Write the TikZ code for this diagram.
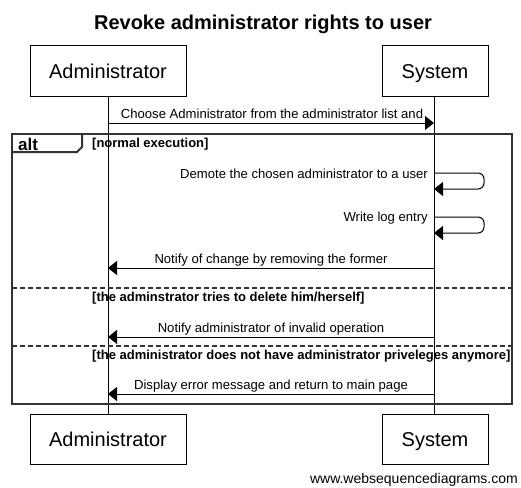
\documentclass[tikz,border=0pt]{standalone}
\usepackage{fontspec}
\setmainfont{Liberation Sans}
\usetikzlibrary{arrows.meta}
\definecolor{framecol}{HTML}{333333}
\begin{document}
\begin{tikzpicture}[x=1pt,y=-1pt,
  actor/.style={draw=black,line width=1pt,minimum height=50pt,inner sep=0pt,text height=14.4pt,text depth=0pt,font=\fontsize{20}{24}\selectfont},
  lifeline/.style={draw=black,line width=1pt},
  msg/.style={draw=black,line width=1pt,-{Triangle[length=9pt,width=14pt]}},
  selfmsg/.style={msg,rounded corners=6pt},
  msglabel/.style={anchor=base,inner sep=0pt,font=\fontsize{13.1}{15}\selectfont},
  selflabel/.style={anchor=base east,inner sep=0pt,font=\fontsize{13.1}{15}\selectfont},
  guard/.style={anchor=west,inner sep=0pt,font=\bfseries\fontsize{13}{15}\selectfont},
  framebox/.style={draw=framecol,line width=2pt},
  separator/.style={draw=framecol,line width=2pt,dash pattern=on 5pt off 3pt}
]
\useasboundingbox (0,0) rectangle (521,487);

% title
\node[font=\bfseries\fontsize{20}{24}\selectfont,inner sep=0pt] (title) at (263,24) {Revoke administrator rights to user};

% actors
\node[actor,minimum width=156pt] (admTop) at (108,71) {Administrator};
\node[actor,minimum width=106pt] (sysTop) at (435,71) {System};
\node[actor,minimum width=156pt] (admBot) at (108,439) {Administrator};
\node[actor,minimum width=106pt] (sysBot) at (435,439) {System};

% lifelines
\draw[lifeline] (admTop.south) -- (admBot.north);
\draw[lifeline] (sysTop.south -| 434,0) -- (sysBot.north -| 434,0);

% alt frame
\draw[framebox] (12,134) rectangle (512,404);
\draw[framebox] (12,152) -- (77,152) -- (82,147) -- (82,134);
\node[anchor=base west,inner sep=0pt,font=\bfseries\fontsize{17}{20}\selectfont] (altlbl) at (18,150.5) {alt};
\node[guard] (g1) at (92,144) {[normal execution]};
\draw[separator] (12,288) -- (512,288);
\node[guard] (g2) at (92,298) {[the adminstrator tries to delete him/herself]};
\draw[separator] (12,346) -- (512,346);
\node[guard] (g3) at (92,356) {[the administrator does not have administrator priveleges anymore]};

% coordinates on lifelines
\coordinate (a1) at (108,123);  \coordinate (s1) at (434,123);
\coordinate (s2a) at (434,173); \coordinate (s2b) at (434,189);
\coordinate (s3a) at (434,217); \coordinate (s3b) at (434,233);
\coordinate (a4) at (108,268);  \coordinate (s4) at (434,268);
\coordinate (a5) at (108,337);  \coordinate (s5) at (434,337);
\coordinate (a6) at (108,394);  \coordinate (s6) at (434,394);

% message 1
\draw[msg] (a1) -- (s1);
\node[msglabel] (l1) at (272,118) {Choose Administrator from the administrator list and};

% self message 2
\draw[selfmsg] (s2a) -- ++(50,0) |- (s2b);
\node[selflabel] (l2) at (428,178) {Demote the chosen administrator to a user};

% self message 3
\draw[selfmsg] (s3a) -- ++(50,0) |- (s3b);
\node[selflabel] (l3) at (428,221.5) {Write log entry};

% message 4
\draw[msg] (s4) -- (a4);
\node[msglabel] (l4) at (271,263) {Notify of change by removing the former};

% message 5
\draw[msg] (s5) -- (a5);
\node[msglabel] (l5) at (271,332) {Notify administrator of invalid operation};

% message 6
\draw[msg] (s6) -- (a6);
\node[msglabel] (l6) at (271,389) {Display error message and return to main page};

% watermark
\node[anchor=base east,inner sep=0pt,font=\fontsize{14}{16}\selectfont] (wm) at (518,483) {www.websequencediagrams.com};
\end{tikzpicture}
\end{document}
